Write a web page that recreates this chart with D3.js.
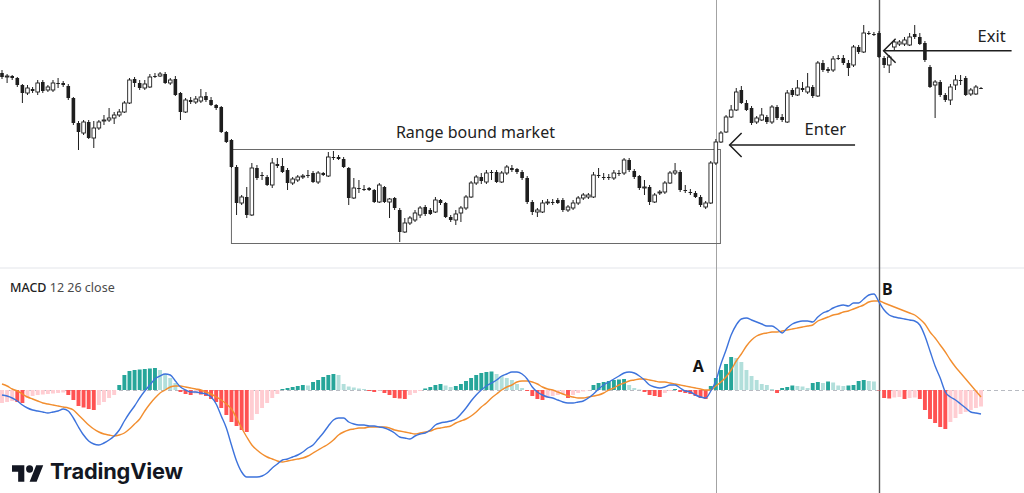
<!DOCTYPE html>
<html>
<head>
<meta charset="utf-8">
<script src="https://cdn.jsdelivr.net/npm/d3@7"></script>
<style>
  html, body { margin: 0; padding: 0; background: #fff; }
  svg { display: block; }
  text { font-family: "Noto Sans", "Open Sans", sans-serif; }
</style>
</head>
<body>
<script>
// candles: [open, high, low, close]
var ohlc = [
  [227,230,221,223],[223,226,217,224],[224,225,220,222],[222,223,213,215],[215,216,197,207],
  [207,215,205,212],[211,213,207,209],[208,220,205,217],[218,220,207,209],[210,215,208,213],
  [210,220,208,217],[217,222,212,217],[217,219,213,215],[214,216,200,202],[202,203,175,177],
  [177,179,150,168],[167,180,165,178],[178,180,161,162],[162,179,152,172],[172,180,170,178],
  [179,185,175,180],[180,192,178,182],[182,188,176,185],[185,191,183,188],[188,199,187,197],
  [197,222,196,220],[221,223,213,217],[217,220,210,212],[212,220,210,216],[213,226,212,223],
  [224,227,222,224],[224,228,223,226],[226,228,216,217],[217,222,215,220],[221,224,204,205],
  [207,208,180,188],[188,202,187,200],[200,203,196,198],[198,204,196,201],[199,211,197,203],
  [204,208,198,200],[200,203,194,195],[195,196,190,192],[193,194,167,168],[168,169,157,158],
  [160,161,132,133],[133,135,85,97],[97,105,95,103],[103,113,82,85],[85,137,84,132],
  [132,135,120,122],[125,128,120,125],[123,125,114,115],[115,142,112,137],[136,142,132,134],
  [134,142,127,128],[130,132,110,117],[117,123,115,121],[120,125,118,123],[123,126,121,124],
  [125,130,122,125],[127,129,117,118],[118,129,116,127],[127,128,124,125],[124,148,123,143],
  [143,149,140,143],[143,145,140,141],[141,143,132,133],[132,133,95,102],[102,122,101,112],
  [112,120,107,112],[111,115,109,111],[112,113,109,110],[110,111,97,98],[98,117,97,115],
  [113,114,97,98],[98,102,82,101],[102,103,90,92],[90,92,58,68],[68,82,67,77],
  [77,84,75,82],[80,90,78,87],[85,94,82,92],[93,95,84,86],[90,92,85,86],
  [88,103,87,100],[100,101,95,97],[97,98,82,83],[83,85,78,80],[80,90,75,86],
  [87,94,78,92],[92,105,90,103],[103,119,102,117],[117,125,115,123],[123,127,116,119],
  [118,130,116,127],[128,130,120,128],[128,130,117,118],[118,129,117,127],[127,135,125,133],
  [132,135,128,130],[131,132,126,128],[128,130,120,122],[122,124,96,98],[98,100,85,88],
  [88,92,83,90],[88,100,87,97],[97,101,95,98],[98,101,95,98],[100,102,96,97],
  [100,102,88,90],[90,95,88,93],[92,100,90,97],[97,104,95,102],[102,107,100,105],
  [103,107,101,105],[103,128,102,125],[125,132,122,125],[123,127,120,123],[123,126,120,123],
  [122,130,120,127],[127,130,124,127],[127,142,125,140],[140,142,128,130],[129,131,121,123],
  [124,125,110,112],[112,120,105,113],[113,115,95,98],[98,107,97,105],[107,110,105,108],
  [108,119,106,117],[117,129,116,127],[127,137,125,129],[128,130,108,110],[110,115,107,110],
  [108,111,105,108],[107,109,102,103],[103,105,93,95],[93,99,91,97],[97,139,96,137],
  [137,161,135,158],[158,169,157,167],[168,185,167,183],[183,195,182,190],[190,212,189,208],
  [210,214,196,197],[197,200,189,190],[192,194,175,177],[178,184,176,182],[180,192,179,185],
  [183,185,176,178],[178,195,176,193],[193,195,180,182],[183,186,178,180],[178,210,177,207],
  [210,212,203,205],[205,220,204,212],[212,218,208,210],[208,227,206,213],[213,215,202,204],
  [204,239,203,237],[237,240,228,230],[231,233,227,229],[230,244,228,241],[242,245,240,242],
  [242,245,235,237],[237,240,224,232],[235,255,233,253],[253,255,246,248],[248,275,247,267],
  [267,269,265,267],[266,268,264,266],[267,269,242,243],[242,244,232,235],[235,245,227,243],
  [253,260,250,258],[256,260,254,258],[256,263,254,260],[255,267,254,263],[266,275,261,263],
  [263,267,255,256],[257,259,238,240],[233,235,212,213],[215,220,182,218],[218,220,203,205],
  [205,207,198,200],[200,216,195,213],[215,225,210,220],[220,225,215,220],[222,224,204,205],
  [206,212,204,210],[206,215,205,213],[212,213,211,212]
];

var macdLine = [
  -0.5,-0.6,-0.8,-1.1,-1.5,-1.8,-2.0,-2.1,-2.2,-2.3,
  -2.2,-2.1,-1.9,-2.1,-2.8,-3.7,-4.5,-5.1,-5.4,-5.5,
  -5.3,-5.0,-4.6,-4.0,-3.1,-2.3,-1.6,-0.8,-0.1,0.5,
  1.1,1.4,1.6,1.5,0.9,0.3,0,-0.2,-0.2,-0.3,
  -0.4,-0.7,-1.4,-2.6,-3.8,-5.5,-7.1,-8.2,-8.7,-8.7,
  -8.7,-8.6,-8.3,-7.8,-7.4,-7.0,-6.9,-6.7,-6.5,-6.2,
  -5.8,-5.5,-4.9,-4.3,-3.6,-3.0,-2.8,-2.8,-3.2,-3.4,
  -3.5,-3.5,-3.6,-3.6,-3.7,-3.8,-4.0,-4.3,-4.7,-4.8,
  -4.9,-4.6,-4.4,-4.3,-4.0,-3.5,-3.3,-3.2,-3.1,-2.9,
  -2.4,-1.8,-1.1,-0.5,0,0.4,0.7,1.0,1.4,1.6,
  1.8,1.8,1.6,1.1,0.3,-0.2,-0.5,-0.7,-0.8,-1.0,
  -1.2,-1.3,-1.3,-1.2,-1.1,-0.8,-0.4,0.1,0.5,0.8,
  1.1,1.4,1.7,1.8,1.7,1.4,1.0,0.5,0.3,0.2,
  0.3,0.5,0.5,0.2,-0.1,-0.2,-0.5,-0.7,-0.8,-0.1,
  0.9,2.6,4.0,5.5,6.5,7.1,7.2,7.0,6.8,6.6,
  6.4,6.4,6.1,5.7,6.2,6.6,6.8,6.9,6.9,6.8,
  7.3,7.7,7.9,8.2,8.4,8.5,8.4,8.7,8.7,9.1,
  9.5,9.6,8.8,8.0,7.5,7.3,7.2,7.1,7.0,6.9,
  6.5,5.4,3.9,2.4,1.2,-0.2,-0.7,-1.0,-1.4,-1.8,
  -2.2,-2.3,-2.4
];

var signalLine = [
  0.6,0.4,0.1,-0.1,-0.4,-0.7,-0.9,-1.1,-1.3,-1.4,
  -1.5,-1.6,-1.7,-1.8,-2.0,-2.5,-3.0,-3.5,-3.9,-4.2,
  -4.4,-4.5,-4.6,-4.5,-4.3,-3.9,-3.4,-2.9,-2.1,-1.4,
  -0.8,-0.3,0,0.3,0.4,0.4,0.3,0.2,0.1,0,
  -0.2,-0.4,-0.7,-1.0,-1.4,-1.9,-2.8,-3.8,-4.7,-5.5,
  -6.0,-6.4,-6.7,-6.9,-7.1,-7.2,-7.1,-7.0,-6.9,-6.8,
  -6.6,-6.3,-6.0,-5.7,-5.4,-5.0,-4.5,-4.2,-4.0,-3.9,
  -3.8,-3.8,-3.7,-3.7,-3.7,-3.7,-3.8,-4.0,-4.1,-4.2,
  -4.3,-4.4,-4.3,-4.2,-4.1,-3.9,-3.8,-3.7,-3.6,-3.3,
  -3.1,-2.9,-2.6,-2.2,-1.7,-1.3,-0.8,-0.4,0,0.3,
  0.5,0.8,0.9,0.9,0.8,0.6,0.3,0.1,0,-0.2,
  -0.4,-0.6,-0.7,-0.8,-0.8,-0.7,-0.6,-0.5,-0.3,0,
  0.2,0.5,0.7,0.9,1.0,1.1,1.1,1.0,0.9,0.8,
  0.8,0.7,0.6,0.5,0.4,0.3,0.2,0.1,0,0,
  0.4,0.8,1.3,2.0,2.9,3.6,4.4,5.0,5.4,5.6,
  5.7,5.8,5.8,5.9,6.0,6.1,6.2,6.3,6.4,6.5,
  6.9,7.1,7.3,7.5,7.6,7.8,7.9,8.1,8.3,8.5,
  8.8,8.9,8.9,8.7,8.5,8.3,8.1,7.9,7.7,7.5,
  7.1,6.6,5.8,5.2,4.5,3.8,3.0,2.3,1.7,1.1,
  0.5,-0.1,-0.7
];

var histogram = [
  -1.3,-1.2,-1.1,-1.2,-1.3,-0.8,-0.6,-0.5,-0.45,-0.4,
  -0.35,-0.3,-0.25,-0.5,-1.0,-1.6,-1.75,-1.9,-2.0,-1.5,
  -1.2,-0.8,-0.5,0.5,1.5,1.9,2.0,2.05,2.1,2.15,
  2.2,2.0,1.6,1.2,0.7,-0.2,-0.4,-0.5,-0.35,-0.45,
  -0.6,-0.9,-1.2,-1.8,-2.5,-3.2,-3.6,-4.0,-4.2,-3.0,
  -2.4,-1.8,-1.3,-0.8,-0.4,0.1,0.2,0.3,0.4,0.5,
  0.45,0.8,1.0,1.3,1.5,1.6,1.5,0.6,0.35,0.25,
  0.15,0.1,-0.1,-0.2,-0.05,-0.3,-0.5,-0.8,-0.85,-0.9,
  -0.5,-0.3,-0.1,0.15,0.3,0.5,0.6,0.45,0.3,0.4,
  0.6,0.9,1.2,1.5,1.7,1.8,1.85,1.6,1.4,1.2,
  1.0,0.6,0.2,-0.1,-0.6,-0.9,-1.0,-0.8,-0.6,-0.5,
  -0.4,-0.8,-0.5,-0.3,-0.15,-0.05,0.5,0.7,0.8,0.9,
  1.0,1.05,1.1,0.5,0.2,0.05,-0.2,-0.5,-0.6,-0.7,
  -0.3,-0.1,0.1,-0.2,-0.3,-0.4,-0.6,-0.8,-0.9,0.4,
  1.2,2.0,2.6,3.3,3.2,2.8,2.0,1.4,1.0,0.6,
  0.5,0.1,-0.3,0.2,0.3,0.45,0.4,0.35,0.2,0.7,
  0.8,0.7,0.85,0.75,0.45,0.4,0.45,0.5,0.9,1.0,
  0.9,0.85,-0.05,-0.8,-0.85,-0.75,-0.7,-0.9,-0.8,-0.75,
  -0.9,-2.0,-2.9,-3.3,-3.7,-3.9,-3.2,-2.8,-2.4,-2.2,
  -2.0,-1.8,-1.65
];

var indicatorTitle = ["MACD", "12 26 close"];
var rangeLabel = "Range bound market";
var rangeBox = [44.9, 140.8, 57, 151];   // from bar, to bar, low, high
var signalBars = [140, 172];             // bars marked by the vertical lines
var signalNames = ["A", "B"];
var arrows = [
  { label: "Enter", tip: 142.7, tail: 167.3, price: 155 },
  { label: "Exit",  tip: 172.9, tail: 198,   price: 249.3 }
];

var W = 1024, H = 493;
var svg = d3.select("body").append("svg").attr("width", W).attr("height", H);

var x = d3.scaleLinear().domain([0, ohlc.length - 1]).range([2, 981]);
var yPrice = d3.scaleLinear().domain([40, 280]).range([260, 20]);
var yMacd = d3.scaleLinear().domain([-10, 10]).range([490, 290]);
var ink = "#1e1e1e";

// pane separator
svg.append("line").attr("x1", 0).attr("x2", W).attr("y1", 268).attr("y2", 268)
  .attr("stroke", "#e3e5ea").attr("stroke-width", 1);

// vertical signal lines
svg.selectAll("line.signal").data(signalBars).enter().append("line")
  .attr("class", "signal")
  .attr("x1", function(d) { return Math.round(x(d)) + 0.5; })
  .attr("x2", function(d) { return Math.round(x(d)) + 0.5; })
  .attr("y1", 0).attr("y2", H)
  .attr("stroke", function(d, i) { return i == 0 ? "#a3a3a3" : "#5a5a5a"; })
  .attr("stroke-width", function(d, i) { return i == 0 ? 1 : 1.4; });

// range box
svg.append("rect")
  .attr("x", x(rangeBox[0]) + 0.5).attr("y", yPrice(rangeBox[3]) + 0.5)
  .attr("width", x(rangeBox[1]) - x(rangeBox[0]))
  .attr("height", yPrice(rangeBox[2]) - yPrice(rangeBox[3]))
  .attr("fill", "none").attr("stroke", "#6a6a6a").attr("stroke-width", 1);

svg.append("text").text(rangeLabel)
  .attr("x", x((rangeBox[0] + rangeBox[1]) / 2)).attr("y", yPrice(rangeBox[3]) - 11)
  .attr("text-anchor", "middle").attr("font-size", 16).attr("fill", "#222");

// candles
var bw = 3.6;
var candles = svg.append("g").selectAll("g").data(ohlc).enter().append("g");
candles.append("line")
  .attr("x1", function(d, i) { return x(i); }).attr("x2", function(d, i) { return x(i); })
  .attr("y1", function(d) { return yPrice(d[1]); })
  .attr("y2", function(d) { return yPrice(d[2]); })
  .attr("stroke", ink).attr("stroke-width", 1);
candles.append("rect")
  .attr("x", function(d, i) { return x(i) - bw / 2; })
  .attr("width", bw)
  .attr("y", function(d) { return yPrice(Math.max(d[0], d[3])); })
  .attr("height", function(d) { return Math.max(1, Math.abs(yPrice(d[0]) - yPrice(d[3]))); })
  .attr("fill", function(d) { return d[3] > d[0] ? "#fff" : ink; })
  .attr("stroke", ink).attr("stroke-width", function(d) { return d[3] > d[0] ? 0.9 : 0; });

// arrows
arrows.forEach(function(a) {
  var ty = yPrice(a.price), tx = x(a.tip);
  var g = svg.append("g").attr("stroke", ink).attr("stroke-width", 1.5).attr("fill", "none");
  g.append("line").attr("x1", tx).attr("x2", x(a.tail)).attr("y1", ty).attr("y2", ty);
  g.append("path").attr("d", "M" + (tx + 12) + "," + (ty - 12) + "L" + tx + "," + ty + "L" + (tx + 12) + "," + (ty + 12));
});
svg.append("text").text(arrows[0].label)
  .attr("x", x(arrows[0].tip) + 75).attr("y", yPrice(arrows[0].price) - 10)
  .attr("font-size", 16.5).attr("fill", "#222");
svg.append("text").text(arrows[1].label)
  .attr("x", x(arrows[1].tip) + 94).attr("y", yPrice(arrows[1].price) - 9)
  .attr("font-size", 16.5).attr("fill", "#222");

// MACD pane
svg.append("line").attr("x1", 0).attr("x2", W)
  .attr("y1", yMacd(0) + 0.5).attr("y2", yMacd(0) + 0.5)
  .attr("stroke", "#b8bbc2").attr("stroke-dasharray", "4,3");

var hw = 3.9;
svg.append("g").selectAll("rect").data(histogram).enter().append("rect")
  .attr("x", function(d, i) { return x(i) - hw / 2; })
  .attr("width", hw)
  .attr("y", function(d) { return yMacd(Math.max(0, d)); })
  .attr("height", function(d) { return Math.abs(yMacd(d) - yMacd(0)); })
  .attr("fill", function(d, i) {
    var prev = i > 0 ? histogram[i - 1] : d - 0.1;
    if (d >= 0) return prev < d ? "#26a69a" : "#b2dfdb";
    return prev < d ? "#ffcdd2" : "#ff5252";
  });

var line = d3.line()
  .x(function(d, i) { return x(i); })
  .y(function(d) { return yMacd(d); })
  .curve(d3.curveMonotoneX);

svg.append("path").datum(signalLine).attr("d", line)
  .attr("fill", "none").attr("stroke", "#f28e2f").attr("stroke-width", 1.4);
svg.append("path").datum(macdLine).attr("d", line)
  .attr("fill", "none").attr("stroke", "#3d73dc").attr("stroke-width", 1.4);

svg.selectAll("text.sig").data(signalNames).enter().append("text")
  .attr("class", "sig").text(function(d) { return d; })
  .attr("x", function(d, i) { return i == 0 ? x(signalBars[0]) - 23 : x(signalBars[1]) + 3; })
  .attr("y", function(d, i) { return i == 0 ? yMacd(1.8) : yMacd(9.5); })
  .attr("font-size", 16).attr("font-weight", 700).attr("fill", "#151515");

var title = svg.append("text").attr("x", 10).attr("y", 292).attr("font-size", 12.5).attr("fill", "#4a4a4a");
title.append("tspan").text(indicatorTitle[0]).attr("fill", "#222").attr("font-weight", 500);
title.append("tspan").text(" " + indicatorTitle[1]);

// TradingView watermark
var logo = svg.append("g").attr("fill", "#131722");
logo.append("g").attr("transform", "translate(12,461.6) scale(0.88,0.92)")
  .call(function(g) {
    g.append("path").attr("d", "M14 22H7V11H0V4h14v18zM28 22h-8l7.5-18h8L28 22z");
    g.append("circle").attr("cx", 20).attr("cy", 8).attr("r", 4);
  });
logo.append("text").text("TradingView")
  .attr("x", 50).attr("y", 479)
  .attr("font-size", 21.8).attr("font-weight", 700).attr("letter-spacing", -0.2)
  .style("font-family", "Inter, 'Noto Sans', sans-serif");
</script>
</body>
</html>
